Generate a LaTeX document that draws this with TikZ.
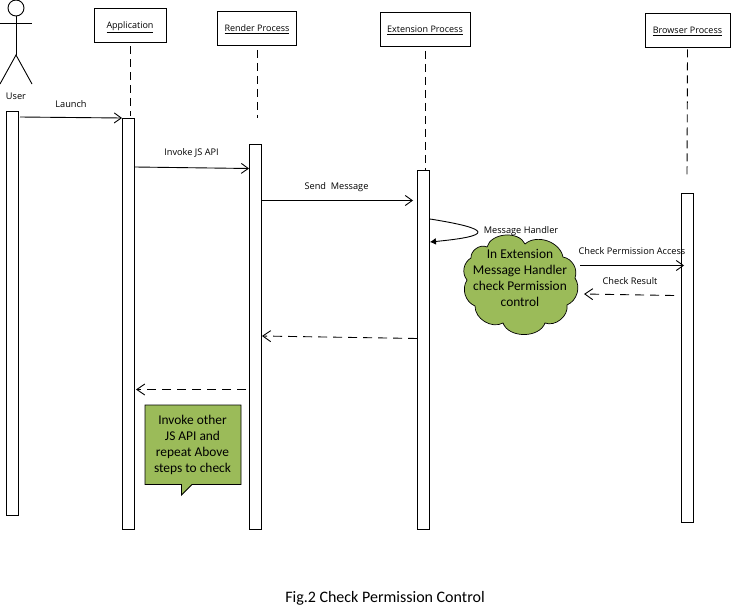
\documentclass[tikz,border=0pt]{standalone}
\usepackage{fontspec}
\setmainfont{Open Sans}
\newfontfamily\calib{Carlito}
\usetikzlibrary{arrows.meta}
\tikzset{
  line/.style={draw=black,line width=0.9pt},
  headbox/.style={line,fill=white,minimum height=34pt,inner sep=0pt,text depth=0pt,font=\fontsize{9}{11}\selectfont},
  barbox/.style={line,fill=white,minimum width=12pt,inner sep=0pt},
  life/.style={line,dash pattern=on 8pt off 5pt},
  msg/.style={line,-{Straight Barb[length=7pt,width=10pt]}},
  ret/.style={line,dash pattern=on 9pt off 6pt,-{Straight Barb[length=8pt,width=11pt]}},
  lbl/.style={font=\fontsize{9.2}{11}\selectfont,inner sep=0pt},
  gtext/.style={font=\calib\fontsize{13.4}{16}\selectfont,inner sep=0pt,align=center},
}
\definecolor{gfill}{RGB}{155,187,89}
\begin{document}
\begin{tikzpicture}[x=1pt,y=-1pt]
\useasboundingbox (0,0) rectangle (731,608);
% lifelines' free ends
\coordinate (append) at (130,116);
\coordinate (renend) at (257,118);
\coordinate (extend) at (425,170);
\coordinate (broend) at (687,178);
% heads
\node[headbox,minimum width=72pt] (app) at (130,25) {\underline{Application}};
\node[headbox,minimum width=79pt] (ren) at (257,28.5) {\underline{Render Process}};
\node[headbox,minimum width=90pt] (ext) at (425,29.5) {\underline{Extension Process}};
\node[headbox,minimum width=85pt] (bro) at (687.5,30) {\underline{Browser Process}};
\draw[life] (app.south) ++(0,4) -- (append);
\draw[life] (ren.south) ++(0,4) -- (renend);
\draw[life] (ext.south) ++(0,4) -- (extend);
\draw[life] (bro.south) ++(0,2) -- (broend);
% bars
\node[barbox,minimum height=404pt] (ubar) at (12.5,313) {};
\node[barbox,minimum height=411pt] (abar) at (128.5,323.5) {};
\node[barbox,minimum height=385pt] (rbar) at (255.5,336.5) {};
\node[barbox,minimum height=359pt] (ebar) at (423.5,349.5) {};
\node[barbox,minimum height=329pt] (bbar) at (687.5,357.5) {};
% actor
\node[line,circle,minimum size=16pt,inner sep=0pt] (head) at (16,8) {};
\node[lbl] (user) at (16,96) {User};
\coordinate (armL) at (0,23);
\coordinate (armR) at (32,23);
\coordinate (hip) at (16,55);
\coordinate (legL) at (0,84);
\coordinate (legR) at (32,84);
\draw[line] (armL) -- (armR);
\draw[line] (head.south) -- (hip);
\draw[line] (legL) -- (hip) -- (legR);
% cloud
\coordinate (v1) at (487,247);
\coordinate (v2) at (525,244);
\coordinate (v3) at (563,257);
\coordinate (v4) at (575,278);
\coordinate (v5) at (567,305);
\coordinate (v6) at (545,323);
\coordinate (v7) at (503,323);
\coordinate (v8) at (475,306);
\coordinate (v9) at (467,280);
\coordinate (v10) at (471,258);
\draw[line,fill=gfill,line width=0.7pt] (v1) to[bend left=70] (v2) to[bend left=60] (v3) to[bend left=50] (v4) to[bend left=50] (v5) to[bend left=60] (v6) to[bend left=70] (v7) to[bend left=60] (v8) to[bend left=50] (v9) to[bend left=50] (v10) to[bend left=60] (v1) -- cycle;
\node[gtext] (cloudtxt) at (520,277.5) {In Extension\\Message Handler\\check Permission\\control};
% callout
\coordinate (n1) at (145,405);
\coordinate (n2) at (241,405);
\coordinate (n3) at (241,484.5);
\coordinate (n4) at (192,484.5);
\coordinate (n5) at (181.5,495);
\coordinate (n6) at (181.5,484.5);
\coordinate (n7) at (145,484.5);
\draw[line,fill=gfill] (n1) -- (n2) -- (n3) -- (n4) -- (n5) -- (n6) -- (n7) -- cycle;
\node[gtext] (notetxt) at (192.5,444.5) {Invoke other\\JS API and\\repeat Above\\steps to check};
% message ends
\coordinate (m1a) at (20,117); \coordinate (m1b) at (122,118);
\coordinate (m2a) at (abar.east |- 0,167); \coordinate (m2b) at (rbar.west |- 0,168.5);
\coordinate (m3a) at (rbar.east |- 0,200.5); \coordinate (m3b) at (413,200.5);
\coordinate (m4a) at (ebar.east |- 0,219); \coordinate (m4b) at (ebar.east |- 0,242);
\coordinate (m5a) at (580,265.5); \coordinate (m5b) at (684,265.5);
\coordinate (m6a) at (674,295.5); \coordinate (m6b) at (584,294);
\coordinate (m7a) at (ebar.west |- 0,338.5); \coordinate (m7b) at (rbar.east |- 0,336);
\coordinate (m8a) at (246,389.5); \coordinate (m8b) at (136,389.5);
\draw[msg] (m1a) -- (m1b);
\draw[msg] (m2a) -- (m2b);
\draw[msg] (m3a) -- (m3b);
\draw[line,-{Latex[length=6pt,width=7pt]}] (m4a) .. controls (493,229) and (493,236) .. (m4b);
\draw[msg] (m5a) -- (m5b);
\draw[ret] (m6a) -- (m6b);
\draw[ret] (m7a) -- (m7b);
\draw[ret] (m8a) -- (m8b);
% labels
\node[lbl] (l1) at (71,104) {Launch};
\node[lbl] (l2) at (191.5,153) {Invoke JS API};
\node[lbl] (l3) at (336.5,187) {Send\ \ Message};
\node[lbl] (l4) at (521,231) {Message Handler};
\node[lbl] (l5) at (632,251) {Check Permission Access};
\node[lbl] (l6) at (630,281) {Check Result};
\node[font=\calib\fontsize{16}{18}\selectfont,inner sep=0pt] (cap) at (385,598) {Fig.2 Check Permission Control};
\end{tikzpicture}
\end{document}
